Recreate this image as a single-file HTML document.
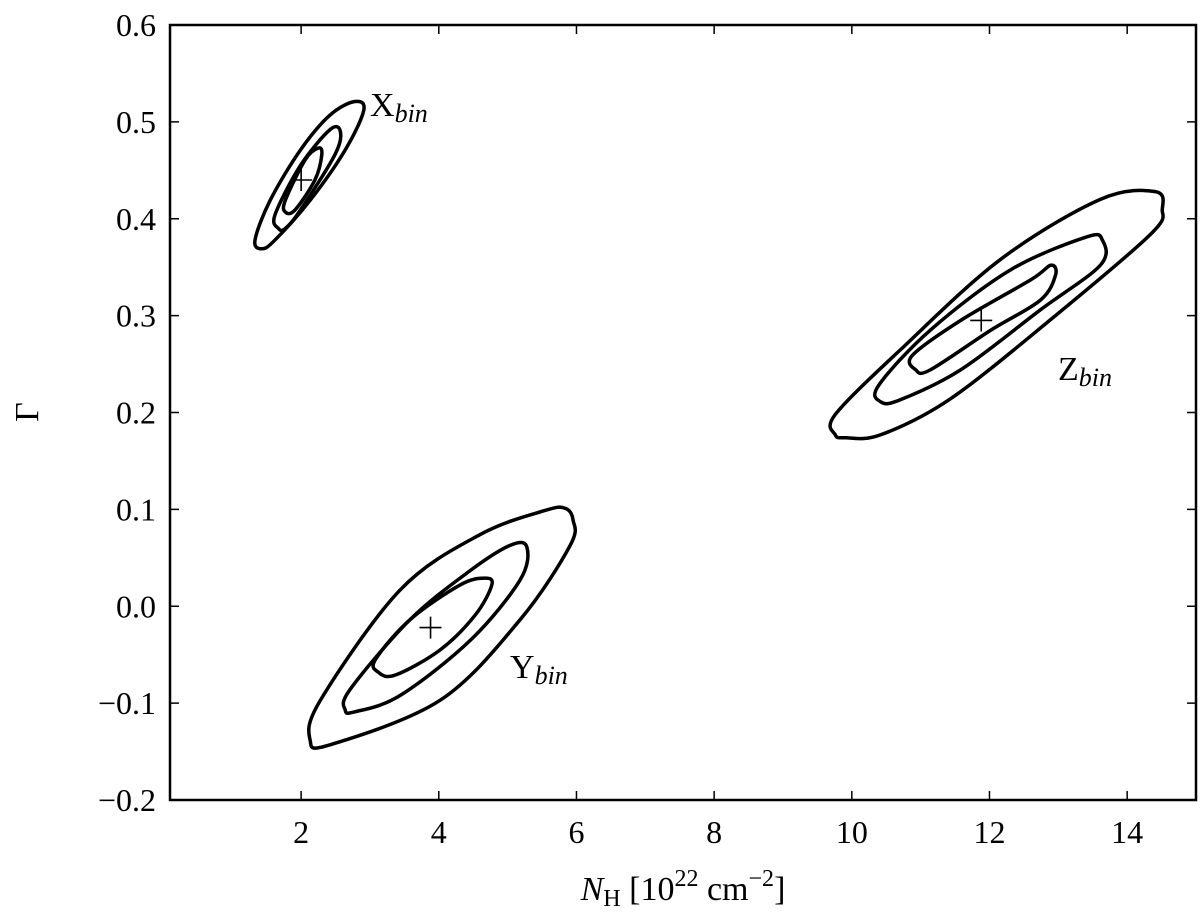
<!DOCTYPE html>
<html><head><meta charset="utf-8"><style>
html,body{margin:0;padding:0;background:#fff;}
svg text{font-family:"Liberation Serif",serif;fill:#000;}
</style></head><body>
<svg id="chart" width="1200" height="919" xmlns="http://www.w3.org/2000/svg">
<g id="marks"></g>
<g id="axes"></g>
</svg>
<script>
const xTicks=[2,4,6,8,10,12,14];
const yTicks=[-0.2,-0.1,0.0,0.1,0.2,0.3,0.4,0.5,0.6];
const yTickLabels=["\u22120.2","\u22120.1","0.0","0.1","0.2","0.3","0.4","0.5","0.6"];
const xOuter=[[1.43,0.369],[1.33,0.378],[1.55,0.419],[1.99,0.471],[2.42,0.507],[2.78,0.521],[2.91,0.512],[2.64,0.471],[2.13,0.419],[1.62,0.378]];
const xMid=[[1.67,0.390],[1.62,0.404],[1.99,0.455],[2.42,0.492],[2.57,0.490],[2.49,0.466],[1.99,0.409],[1.77,0.390]];
const xInner=[[1.77,0.407],[1.77,0.419],[2.06,0.461],[2.25,0.473],[2.30,0.466],[2.20,0.440],[1.91,0.409]];
const yOuter=[[2.13,-0.138],[2.28,-0.097],[3.44,0.017],[4.60,0.074],[5.55,0.099],[5.84,0.101],[5.95,0.089],[5.91,0.063],[5.18,-0.014],[4.02,-0.097],[2.42,-0.143]];
const yMid=[[2.64,-0.107],[2.71,-0.086],[3.58,-0.014],[4.46,0.037],[5.04,0.063],[5.28,0.061],[5.18,0.027],[4.46,-0.035],[3.44,-0.092],[2.78,-0.109]];
const yInner=[[3.12,-0.068],[3.08,-0.055],[3.58,-0.014],[4.31,0.022],[4.67,0.029],[4.77,0.022],[4.53,-0.009],[4.02,-0.045],[3.37,-0.071]];
const zOuter=[[9.76,0.177],[9.76,0.198],[10.71,0.265],[12.16,0.358],[13.61,0.420],[14.41,0.428],[14.51,0.410],[14.34,0.384],[12.89,0.296],[11.43,0.214],[10.42,0.177],[9.91,0.174]];
const zMid=[[10.42,0.211],[10.39,0.228],[11.14,0.285],[12.30,0.347],[13.40,0.381],[13.64,0.378],[13.61,0.352],[12.74,0.306],[11.58,0.244],[10.70,0.213]];
const zInner=[[10.93,0.244],[10.88,0.259],[11.58,0.295],[12.60,0.337],[12.89,0.352],[12.96,0.342],[12.74,0.316],[12.02,0.285],[11.14,0.244]];
const bestFits=[[2.0,0.44],[3.88,-0.022],[11.88,0.295]];
const fitNames=["x","y","z"];

const L=170,R=1196,T=25,B=800,XMIN=0.095,XMAX=15.0,YMIN=-0.2,YMAX=0.6;
const sx=v=>L+(v-XMIN)/(XMAX-XMIN)*(R-L);
const sy=v=>B-(v-YMIN)/(YMAX-YMIN)*(B-T);
const NS="http://www.w3.org/2000/svg";
const marks=document.getElementById('marks'),axes=document.getElementById('axes');
function mk(tag,attrs,parent){const e=document.createElementNS(NS,tag);for(const k in attrs)e.setAttribute(k,attrs[k]);parent.appendChild(e);return e;}
function smooth(pts){const p=pts.map(d=>[sx(d[0]),sy(d[1])]);const n=p.length;let s=`M${p[0][0]},${p[0][1]}`;
 for(let i=0;i<n;i++){const p0=p[(i-1+n)%n],p1=p[i],p2=p[(i+1)%n],p3=p[(i+2)%n];
 const c1=[p1[0]+(p2[0]-p0[0])/6,p1[1]+(p2[1]-p0[1])/6],c2=[p2[0]-(p3[0]-p1[0])/6,p2[1]-(p3[1]-p1[1])/6];
 s+=`C${c1[0]},${c1[1]} ${c2[0]},${c2[1]} ${p2[0]},${p2[1]}`;}return s+'Z';}
const contours=[["x-outer",xOuter],["x-mid",xMid],["x-inner",xInner],["y-outer",yOuter],["y-mid",yMid],["y-inner",yInner],["z-outer",zOuter],["z-mid",zMid],["z-inner",zInner]];
contours.forEach(([n,pts])=>{const e=mk('path',{d:smooth(pts),fill:'none',stroke:'#000','stroke-width':3.5,'stroke-linejoin':'round'},marks);

});
bestFits.forEach((d,i)=>{const cx=sx(d[0]),cy=sy(d[1]);const e=mk('path',{d:`M${cx-11},${cy}H${cx+11}M${cx},${cy-11}V${cy+11}`,stroke:'#000','stroke-width':1.6},marks);

});
// frame
const fr=mk('rect',{x:L,y:T,width:R-L,height:B-T,fill:'none',stroke:'#000','stroke-width':2.5},axes);


xTicks.forEach(v=>{const x=sx(v);mk('path',{d:`M${x},${B}v-9M${x},${T}v9`,stroke:'#000','stroke-width':1.5},axes);
const t=mk('text',{x:x,y:B+43,'font-size':32,'text-anchor':'middle'},axes);t.textContent=v;

});
yTicks.forEach((v,i)=>{const y=sy(v);mk('path',{d:`M${L},${y}h9M${R},${y}h-9`,stroke:'#000','stroke-width':1.5},axes);
const t=mk('text',{x:L-14,y:y+11,'font-size':32,'text-anchor':'end'},axes);t.textContent=yTickLabels[i];

});
</script>
<svg width="1200" height="919" style="position:absolute;left:0;top:0">
<text x="370" y="116" font-size="34">X<tspan font-style="italic" font-size="26" dy="6">bin</tspan></text>
<text x="510" y="678" font-size="34">Y<tspan font-style="italic" font-size="26" dy="6">bin</tspan></text>
<text x="1058" y="380" font-size="34">Z<tspan font-style="italic" font-size="26" dy="6">bin</tspan></text>
<text x="683" y="900" font-size="34" text-anchor="middle"><tspan font-style="italic">N</tspan><tspan font-size="24" dy="6">H</tspan><tspan dy="-6"> [10</tspan><tspan font-size="24" dy="-14">22</tspan><tspan dy="14"> cm</tspan><tspan font-size="24" dy="-14">−2</tspan><tspan dy="14">]</tspan></text>
<text x="38" y="412" font-size="34" text-anchor="middle" transform="rotate(-90 38 412)">Γ</text>
</svg>
</body></html>
